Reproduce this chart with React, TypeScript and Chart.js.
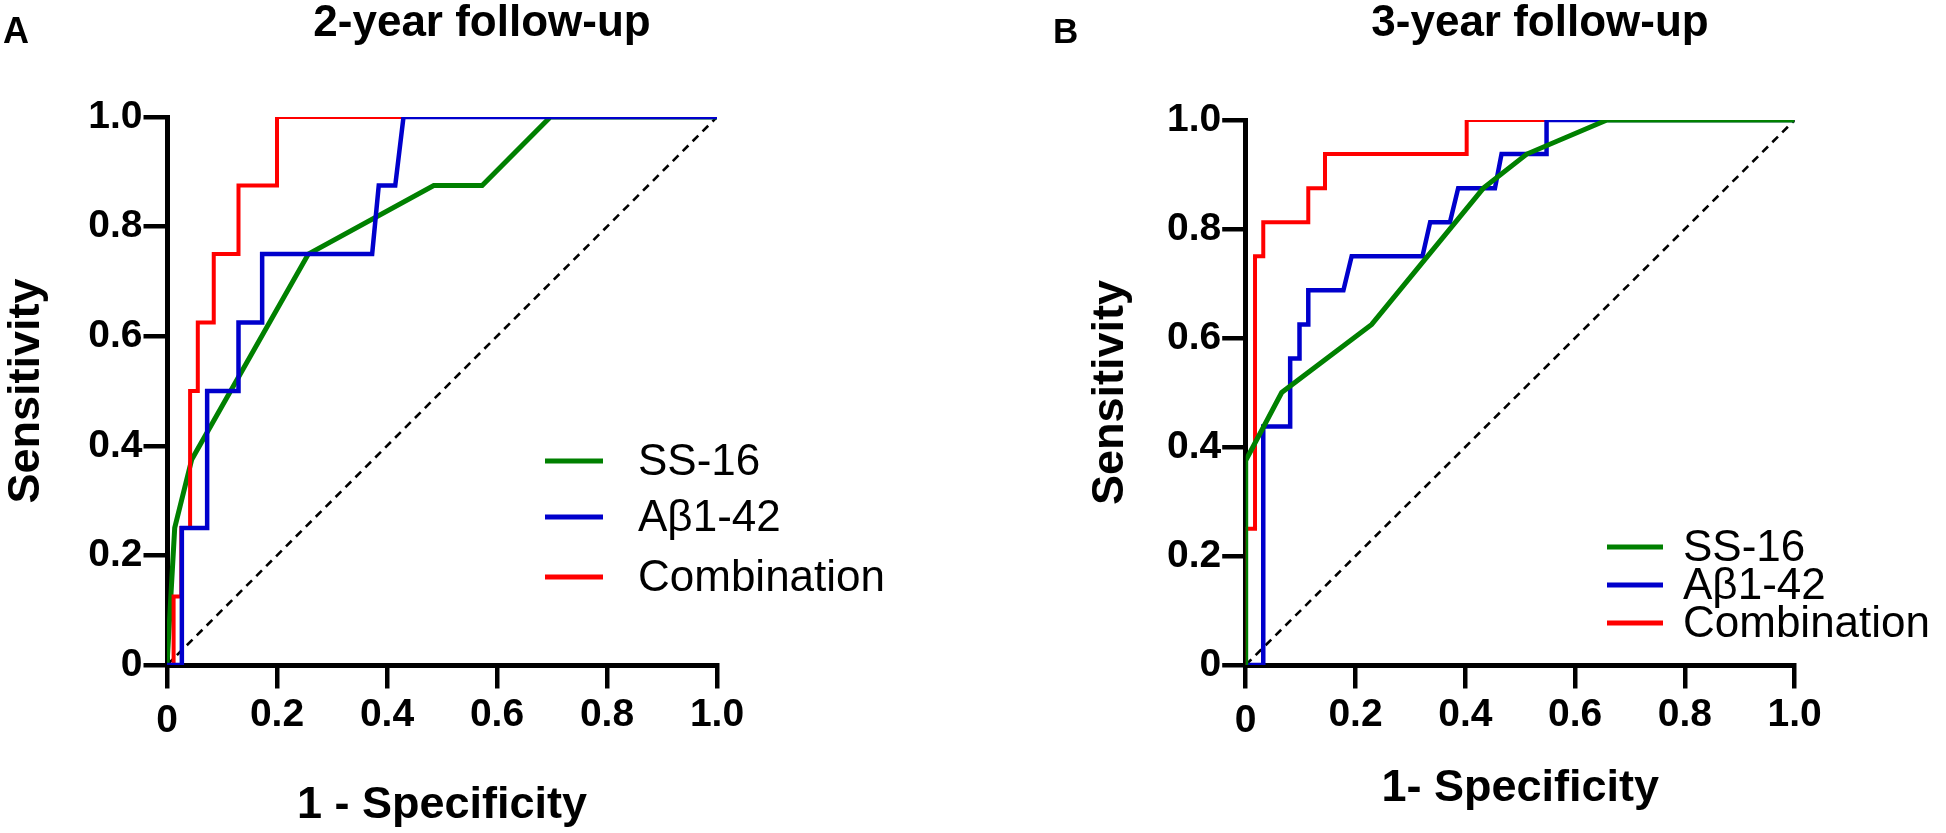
import React, { useEffect, useRef } from "react";
import { Chart, registerables } from "chart.js";

Chart.register(...registerables);

const FONT = "'Liberation Sans', Arial, Helvetica, sans-serif";

// Axis ticks and labels
const xTicks = [0, 0.2, 0.4, 0.6, 0.8, 1.0];
const xTickLabels = ["0", "0.2", "0.4", "0.6", "0.8", "1.0"];
const yTicks = [0, 0.2, 0.4, 0.6, 0.8, 1.0];
const yTickLabels = ["0", "0.2", "0.4", "0.6", "0.8", "1.0"];

// Series
const seriesNames = ["SS-16", "Aβ1-42", "Combination"];
const seriesColors = ["#008000", "#0000CC", "#FF0000"];
const seriesWidths = [5, 4.5, 4];

// Reference diagonal
const refX = [0, 1];
const refY = [0, 1];

// Panel A: 2-year follow-up
const aSS16X = [0, 0.014, 0.045, 0.257, 0.485, 0.573, 0.697, 1.0];
const aSS16Y = [0, 0.25, 0.375, 0.75, 0.875, 0.875, 1.0, 1.0];
const aAbX = [0, 0.027, 0.027, 0.073, 0.073, 0.13, 0.13, 0.173, 0.173, 0.373, 0.385, 0.415, 0.43, 1.0];
const aAbY = [0, 0, 0.25, 0.25, 0.5, 0.5, 0.625, 0.625, 0.75, 0.75, 0.875, 0.875, 1.0, 1.0];
const aCombX = [0, 0.012, 0.012, 0.026, 0.026, 0.042, 0.042, 0.056, 0.056, 0.085, 0.085, 0.13, 0.13, 0.2, 0.2, 1.0];
const aCombY = [0, 0, 0.125, 0.125, 0.25, 0.25, 0.5, 0.5, 0.625, 0.625, 0.75, 0.75, 0.875, 0.875, 1.0, 1.0];

// Panel B: 3-year follow-up
const bSS16X = [0, 0, 0.0656, 0.2295, 0.433, 0.512, 0.658, 1.0];
const bSS16Y = [0, 0.375, 0.5, 0.625, 0.875, 0.9375, 1.0, 1.0];
const bAbX = [0, 0.032, 0.032, 0.081, 0.081, 0.098, 0.098, 0.114, 0.114, 0.178, 0.193, 0.322, 0.336, 0.372, 0.387, 0.454, 0.466, 0.548, 0.548, 1.0];
const bAbY = [0, 0, 0.4375, 0.4375, 0.5625, 0.5625, 0.625, 0.625, 0.6875, 0.6875, 0.75, 0.75, 0.8125, 0.8125, 0.875, 0.875, 0.9375, 0.9375, 1.0, 1.0];
const bCombX = [0, 0, 0.017, 0.017, 0.032, 0.032, 0.114, 0.114, 0.1445, 0.1445, 0.4025, 0.4025, 1.0];
const bCombY = [0, 0.25, 0.25, 0.75, 0.75, 0.8125, 0.8125, 0.875, 0.875, 0.9375, 0.9375, 1.0, 1.0];

const toPts = (xs: number[], ys: number[]) => xs.map((x, i) => ({ x, y: ys[i] }));

const panelTextPlugin = {
  id: "panelText",
  afterDraw(chart: any, _args: any, opts: any) {
    const ctx = chart.ctx as CanvasRenderingContext2D;
    ctx.save();
    ctx.fillStyle = "#000";
    ctx.textBaseline = "alphabetic";
    ctx.textAlign = "center";
    ctx.font = `bold ${opts.titleSize}px ${FONT}`;
    ctx.fillText(opts.title, opts.titleX, opts.titleY);
    ctx.textAlign = "left";
    ctx.font = `bold ${opts.letterSize}px ${FONT}`;
    ctx.fillText(opts.letter, opts.letterX, opts.letterY);
    // legend
    ctx.font = `${opts.legendSize}px ${FONT}`;
    ctx.textBaseline = "middle";
    seriesNames.forEach((name, i) => {
      const ds = chart.data.datasets.find((d: any) => d.label === name);
      if (!ds) return;
      const y = opts.legendY[i];
      ctx.strokeStyle = ds.borderColor;
      ctx.lineWidth = 5;
      ctx.setLineDash([]);
      ctx.beginPath();
      ctx.moveTo(opts.legendLineX0, y);
      ctx.lineTo(opts.legendLineX1, y);
      ctx.stroke();
      ctx.fillStyle = "#000";
      ctx.fillText(name, opts.legendTextX, y + 2);
    });
    ctx.restore();
  },
};

type Panel = {
  series: { x: number[]; y: number[] }[];
  order: number[];
  yWidth: number;
  padTop: number;
  padRight: number;
  yTitlePad: number;
  xTitlePad: number;
  xTitle: string;
  text: any;
};

function makeConfig(p: Panel): any {
  const datasets: any[] = p.series.map((s, i) => ({
    label: seriesNames[i],
    data: toPts(s.x, s.y),
    borderColor: seriesColors[i],
    backgroundColor: seriesColors[i],
    borderWidth: seriesWidths[i],
    pointRadius: 0,
    fill: false,
    tension: 0,
    clip: 0,
    order: p.order[i],
  }));
  datasets.push({
    label: "reference",
    data: toPts(refX, refY),
    borderColor: "#000",
    borderWidth: 2.6,
    borderDash: [8, 6],
    pointRadius: 0,
    fill: false,
    clip: 0,
    order: 10,
  });
  const tickFont = { family: FONT, size: 39, weight: "bold", lineHeight: 1.2 };
  return {
    type: "line",
    data: { datasets },
    options: {
      responsive: false,
      maintainAspectRatio: false,
      animation: false,
      events: [],
      layout: { padding: { left: 0, top: p.padTop, right: p.padRight, bottom: 0 } },
      plugins: {
        legend: { display: false },
        tooltip: { enabled: false },
        title: { display: false },
        panelText: p.text,
      },
      scales: {
        x: {
          type: "linear",
          min: 0,
          max: 1,
          afterBuildTicks: (scale: any) => {
            scale.ticks = xTicks.map((v) => ({ value: v }));
          },
          afterFit: (scale: any) => {
            scale.height = 168;
          },
          ticks: {
            color: "#000",
            padding: 3,
            maxRotation: 0,
            autoSkip: false,
            font: (c: any) =>
              c.index === 0 ? { ...tickFont, lineHeight: 1.55 } : tickFont,
            callback: (_v: any, i: number) => xTickLabels[i],
          },
          grid: {
            display: true,
            drawOnChartArea: false,
            drawTicks: true,
            tickLength: 23.5,
            tickWidth: 4.5,
            tickColor: "#000",
            color: "#000",
            lineWidth: 4.5,
          },
          border: { display: true, color: "#000", width: 5 },
          title: {
            display: true,
            text: p.xTitle,
            color: "#000",
            font: { family: FONT, size: 45, weight: "bold", lineHeight: 1 },
            padding: { top: 0, bottom: p.xTitlePad },
          },
        },
        y: {
          type: "linear",
          min: 0,
          max: 1,
          afterBuildTicks: (scale: any) => {
            scale.ticks = yTicks.map((v) => ({ value: v }));
          },
          afterFit: (scale: any) => {
            scale.width = p.yWidth;
          },
          ticks: {
            color: "#000",
            padding: 1,
            autoSkip: false,
            font: tickFont,
            callback: (_v: any, i: number) => yTickLabels[i],
          },
          grid: {
            display: true,
            drawOnChartArea: false,
            drawTicks: true,
            tickLength: 23.5,
            tickWidth: 4.5,
            tickColor: "#000",
            color: "#000",
            lineWidth: 4.5,
          },
          border: { display: true, color: "#000", width: 5 },
          title: {
            display: true,
            text: "Sensitivity",
            color: "#000",
            font: { family: FONT, size: 45, weight: "bold", lineHeight: 1 },
            padding: { top: p.yTitlePad, bottom: 0 },
          },
        },
      },
    },
    plugins: [panelTextPlugin],
  };
}

const panelA: Panel = {
  series: [
    { x: aSS16X, y: aSS16Y },
    { x: aAbX, y: aAbY },
    { x: aCombX, y: aCombY },
  ],
  order: [3, 1, 2],
  yWidth: 167,
  padTop: 117,
  padRight: 973 - 717,
  yTitlePad: 4.5,
  xTitlePad: 4.5,
  xTitle: "1 - Specificity",
  text: {
    title: "2-year follow-up",
    titleSize: 44,
    titleX: 482,
    titleY: 36,
    letter: "A",
    letterSize: 36,
    letterX: 3,
    letterY: 43,
    legendSize: 44,
    legendY: [461, 517, 577],
    legendLineX0: 545,
    legendLineX1: 603,
    legendTextX: 638,
  },
};

const panelB: Panel = {
  series: [
    { x: bSS16X, y: bSS16Y },
    { x: bAbX, y: bAbY },
    { x: bCombX, y: bCombY },
  ],
  order: [1, 2, 3],
  yWidth: 272.7,
  padTop: 120,
  padRight: 973 - 821.7,
  yTitlePad: 115.2,
  xTitlePad: 21.5,
  xTitle: "1- Specificity",
  text: {
    title: "3-year follow-up",
    titleSize: 44,
    titleX: 567,
    titleY: 36,
    letter: "B",
    letterSize: 35,
    letterX: 80,
    letterY: 43,
    legendSize: 44,
    legendY: [547, 585, 623],
    legendLineX0: 634,
    legendLineX1: 690,
    legendTextX: 710,
  },
};

function PanelChart({ panel }: { panel: Panel }) {
  const ref = useRef<HTMLCanvasElement | null>(null);
  useEffect(() => {
    if (!ref.current) return;
    const chart = new Chart(ref.current, makeConfig(panel));
    return () => chart.destroy();
  }, [panel]);
  return (
    <canvas
      ref={ref}
      width={973}
      height={833}
      style={{ display: "block", width: 973, height: 833 }}
    />
  );
}

export default function App() {
  return (
    <div
      style={{
        position: "fixed",
        left: 0,
        top: 0,
        width: 1946,
        height: 833,
        background: "#fff",
        display: "flex",
        flexDirection: "row",
      }}
    >
      <PanelChart panel={panelA} />
      <PanelChart panel={panelB} />
    </div>
  );
}
